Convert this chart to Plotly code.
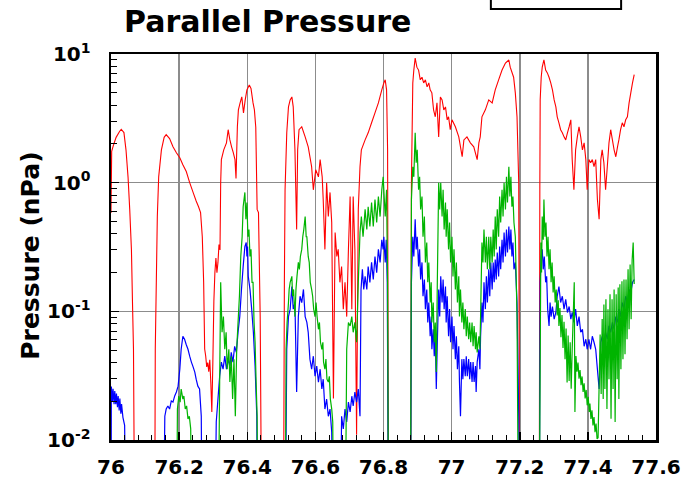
import plotly.graph_objects as go

# ---------------- data (time vs parallel pressure, nPa) ----------------
red_t1 = [76.000, 76.002, 76.007, 76.015, 76.025, 76.030, 76.038, 76.044, 76.050, 76.055, 76.060, 76.063, 76.066, 76.070]
red_p1 = [0.58, 1.75, 1.95, 2.25, 2.5, 2.6, 2.45, 1.8, 1.11, 0.62, 0.30, 0.12, 0.051, 0.001]

red_t2 = [76.128, 76.130, 76.136, 76.140, 76.148, 76.156, 76.162, 76.172, 76.182, 76.192, 76.202, 76.211, 76.221, 76.231,
          76.241, 76.250, 76.257, 76.263, 76.268, 76.272, 76.275, 76.278, 76.281, 76.284, 76.287, 76.290, 76.293, 76.296,
          76.299, 76.302, 76.305, 76.308, 76.311, 76.314, 76.317, 76.320, 76.322, 76.324, 76.331, 76.339, 76.344, 76.349,
          76.354, 76.359, 76.364, 76.367, 76.371, 76.374, 76.379, 76.384, 76.389, 76.394, 76.399, 76.406, 76.411, 76.417,
          76.421, 76.425, 76.429, 76.433, 76.438, 76.443]
red_p2 = [0.001, 0.051, 0.545, 1.11, 1.8, 2.25, 2.36, 2.2, 1.9, 1.71, 1.56, 1.38, 1.22, 1.0,
          0.84, 0.72, 0.65, 0.585, 0.38, 0.168, 0.051, 0.045, 0.037, 0.040, 0.034, 0.042, 0.028, 0.0165,
          0.04, 0.12, 0.2, 0.26, 0.2, 0.24, 0.33, 0.30, 1.0, 1.51, 1.8, 2.04, 2.58, 2.15,
          1.9, 1.71, 1.51, 1.08, 2.72, 3.68, 4.17, 4.64, 3.49, 4.4, 5.26, 5.75, 5.4, 4.17,
          3.68, 2.7, 0.62, 0.585, 0.091, 0.001]

red_t3 = [76.506, 76.509, 76.511, 76.516, 76.521, 76.526, 76.531, 76.535, 76.540, 76.545, 76.548, 76.552, 76.560, 76.570,
          76.579, 76.589, 76.594, 76.601, 76.609, 76.614, 76.620, 76.623, 76.628, 76.633, 76.638, 76.643, 76.648, 76.653,
          76.658, 76.663, 76.667, 76.672, 76.677, 76.682, 76.687, 76.692, 76.697, 76.702, 76.707, 76.711, 76.716, 76.721,
          76.726, 76.731, 76.735, 76.746, 76.755, 76.765, 76.775, 76.785, 76.795, 76.801, 76.805, 76.809, 76.812, 76.815]
red_p3 = [0.001, 0.168, 0.88, 2.44, 3.88, 4.4, 4.64, 3.88, 1.8, 0.432, 1.8, 2.58, 2.72, 2.27,
          1.9, 1.33, 0.88, 1.26, 1.11, 1.51, 1.11, 0.74, 0.303, 1.0, 0.545, 0.84, 0.49, 0.021,
          0.41, 0.267, 0.303, 0.168, 0.223, 0.104, 0.168, 0.091, 0.303, 0.78, 0.104, 0.78, 0.303, 0.011,
          0.62, 1.33, 1.8, 2.15, 2.44, 2.92, 3.49, 4.17, 5.26, 5.96, 6.3, 5.26, 1.8, 0.001]

red_t4 = [76.879, 76.882, 76.886, 76.889, 76.893, 76.898, 76.903, 76.908, 76.913, 76.918, 76.923, 76.928, 76.933, 76.937,
          76.942, 76.947, 76.952, 76.957, 76.962, 76.967, 76.972, 76.977, 76.982, 76.987, 76.991, 76.996, 77.001, 77.011,
          77.021, 77.026, 77.031, 77.036, 77.045, 77.055, 77.065, 77.075, 77.080, 77.084, 77.089, 77.099, 77.109, 77.119,
          77.128, 77.138, 77.148, 77.158, 77.168, 77.172, 77.182, 77.187, 77.192, 77.197, 77.200]
red_p4 = [0.001, 1.0, 5.96, 7.5, 9.3, 7.9, 7.5, 6.3, 6.6, 5.96, 6.3, 5.55, 5.96, 5.26,
          4.99, 3.68, 3.25, 4.17, 2.27, 4.64, 4.4, 3.68, 3.88, 3.08, 3.25, 2.58, 3.08, 2.72,
          2.27, 1.9, 1.59, 2.15, 2.27, 2.04, 1.9, 1.51, 2.04, 2.27, 3.25, 3.68, 4.4, 4.17,
          5.26, 6.3, 7.5, 8.5, 8.98, 7.9, 6.6, 4.99, 3.25, 1.0, 0.001]

red_t5 = [77.257, 77.259, 77.260, 77.263, 77.266, 77.271, 77.276, 77.281, 77.286, 77.291, 77.296, 77.301, 77.306, 77.310,
          77.315, 77.320, 77.325, 77.330, 77.335, 77.340, 77.345, 77.350, 77.354, 77.359, 77.364, 77.369, 77.374, 77.379,
          77.384, 77.389, 77.394, 77.398, 77.403, 77.408, 77.413, 77.418, 77.423, 77.428, 77.433, 77.438, 77.442, 77.447,
          77.452, 77.457, 77.462, 77.467, 77.472, 77.477, 77.482, 77.487, 77.491, 77.496, 77.501, 77.506, 77.511, 77.516,
          77.521, 77.526, 77.531, 77.536]
red_p5 = [0.001, 1.0, 4.4, 6.6, 7.9, 9.0, 7.5, 7.13, 6.6, 5.96, 5.26, 4.4, 3.88, 3.25,
          2.92, 2.58, 2.44, 2.27, 2.15, 2.44, 2.72, 3.08, 1.51, 0.88, 1.8, 2.27, 2.72, 2.27,
          1.8, 2.04, 1.51, 0.88, 1.51, 1.43, 1.51, 1.33, 1.51, 0.74, 0.52, 1.51, 1.8, 1.43,
          0.88, 1.33, 2.04, 2.58, 2.15, 1.8, 1.59, 1.9, 2.15, 2.58, 2.92, 2.72, 3.08, 3.25,
          4.17, 4.99, 5.96, 6.9]

blue_t1 = [76.000, 76.001, 76.004, 76.006, 76.009, 76.011, 76.014, 76.016, 76.019, 76.021, 76.024, 76.026, 76.029,
           76.031, 76.035, 76.040, 76.045]
blue_p1 = [0.001, 0.026, 0.020, 0.025, 0.019, 0.024, 0.019, 0.023, 0.018, 0.022, 0.017, 0.021, 0.016,
           0.019, 0.015, 0.013, 0.001]

blue_t2 = [76.153, 76.158, 76.162, 76.167, 76.172, 76.177, 76.182, 76.187, 76.192, 76.197, 76.202, 76.206, 76.211,
           76.216, 76.221, 76.226, 76.231, 76.236, 76.241, 76.246, 76.250, 76.255, 76.260, 76.265, 76.268]
blue_p2 = [0.001, 0.0153, 0.0174, 0.0184, 0.0174, 0.0201, 0.0197, 0.022, 0.0236, 0.0262, 0.0355, 0.0507, 0.064,
           0.0607, 0.055, 0.0507, 0.0448, 0.0403, 0.037, 0.0337, 0.0297, 0.0262, 0.0249, 0.0153, 0.001]

blue_t3 = [76.304, 76.309, 76.314, 76.319, 76.324, 76.329, 76.334, 76.339, 76.344, 76.349, 76.353, 76.358, 76.363,
           76.368, 76.373, 76.378, 76.383, 76.388, 76.393, 76.397, 76.399, 76.401, 76.403, 76.408, 76.413, 76.418,
           76.423, 76.428, 76.431]
blue_p3 = [0.001, 0.0138, 0.0208, 0.0313, 0.0403, 0.0355, 0.0448, 0.0355, 0.0425, 0.0375, 0.048, 0.0403, 0.0535,
           0.048, 0.0687, 0.091, 0.148, 0.223, 0.319, 0.343, 0.267, 0.319, 0.187, 0.148, 0.104, 0.0687,
           0.0375, 0.0153, 0.001]

blue_t4 = [76.511, 76.516, 76.521, 76.526, 76.531, 76.535, 76.540, 76.545, 76.550, 76.555, 76.560, 76.565, 76.570,
           76.575, 76.579, 76.584, 76.589, 76.594, 76.599, 76.604, 76.609, 76.614, 76.619, 76.623, 76.628, 76.633,
           76.638, 76.643, 76.648, 76.653, 76.672, 76.677, 76.682, 76.687, 76.692, 76.697, 76.702, 76.707, 76.711,
           76.716, 76.721, 76.726, 76.731, 76.734, 76.738, 76.742, 76.746, 76.751, 76.755, 76.760, 76.765, 76.770,
           76.775, 76.780, 76.785, 76.790, 76.795, 76.799, 76.801, 76.805, 76.808, 76.811, 76.815]
blue_p4 = [0.001, 0.0507, 0.091, 0.104, 0.156, 0.104, 0.117, 0.0236, 0.091, 0.131, 0.117, 0.148, 0.091,
           0.082, 0.0687, 0.0425, 0.0355, 0.0448, 0.0313, 0.0375, 0.0282, 0.0355, 0.0249, 0.0297, 0.0174, 0.0208,
           0.0153, 0.0174, 0.0115, 0.001, 0.001, 0.0153, 0.0122, 0.0174, 0.0138, 0.0197, 0.0165, 0.0219, 0.0184,
           0.0236, 0.0197, 0.0249, 0.0153, 0.148, 0.212, 0.148, 0.187, 0.148, 0.223, 0.168, 0.24, 0.177,
           0.267, 0.20, 0.303, 0.24, 0.36, 0.303, 0.38, 0.24, 0.36, 0.168, 0.001]

# shared time stamps for the 76.88 - 77.20 interval (blue and green)
mid_t = [76.879, 76.882, 76.886, 76.889, 76.893, 76.896, 76.899, 76.903, 76.906, 76.909, 76.913, 76.916, 76.920,
         76.923, 76.927, 76.930, 76.933, 76.937, 76.940, 76.942, 76.946, 76.949, 76.952, 76.955, 76.958, 76.962,
         76.965, 76.968, 76.972, 76.975, 76.978, 76.982, 76.984, 76.987, 76.991, 76.994, 76.997, 77.001, 77.004,
         77.007, 77.011, 77.014, 77.017, 77.021, 77.023, 77.026, 77.030, 77.033, 77.036, 77.040, 77.043, 77.046,
         77.050, 77.053, 77.056, 77.060, 77.063, 77.066, 77.070, 77.072, 77.075, 77.080, 77.083, 77.085, 77.089,
         77.092, 77.095, 77.099, 77.102, 77.105, 77.109, 77.112, 77.115, 77.119, 77.122, 77.125, 77.128, 77.131,
         77.134, 77.138, 77.141, 77.144, 77.148, 77.151, 77.154, 77.158, 77.161, 77.164, 77.168, 77.171, 77.174,
         77.177, 77.180, 77.183, 77.187, 77.192, 77.197, 77.200]
blue_p5 = [0.001, 0.168, 0.38, 0.267, 0.52, 0.303, 0.38, 0.223, 0.303, 0.177, 0.24, 0.131, 0.177,
           0.104, 0.148, 0.082, 0.117, 0.064, 0.091, 0.0507, 0.0725, 0.0448, 0.064, 0.0249, 0.0575, 0.148,
           0.091, 0.187, 0.117, 0.177, 0.104, 0.156, 0.082, 0.131, 0.064, 0.104, 0.0575, 0.091, 0.0507,
           0.077, 0.0425, 0.064, 0.0355, 0.0535, 0.0282, 0.0153, 0.0425, 0.0297, 0.0425, 0.0313, 0.0448, 0.0313,
           0.0425, 0.0297, 0.0403, 0.0282, 0.0403, 0.0282, 0.0375, 0.0236, 0.0403, 0.0507, 0.0355, 0.064, 0.117,
           0.082, 0.168, 0.104, 0.187, 0.117, 0.212, 0.131, 0.24, 0.148, 0.24, 0.168, 0.253, 0.177,
           0.287, 0.187, 0.319, 0.212, 0.36, 0.24, 0.41, 0.267, 0.432, 0.287, 0.456, 0.303, 0.432,
           0.267, 0.343, 0.212, 0.24, 0.117, 0.0153, 0.001]

blue_t6 = [77.257, 77.260, 77.263, 77.266, 77.269, 77.272, 77.276, 77.279, 77.282, 77.286, 77.289, 77.292, 77.296,
           77.301, 77.306, 77.310, 77.315, 77.320, 77.325, 77.330, 77.335, 77.340, 77.345, 77.350, 77.354, 77.359,
           77.364, 77.369, 77.374, 77.379, 77.384, 77.389, 77.394, 77.398, 77.403, 77.408, 77.413, 77.418, 77.423,
           77.428, 77.433, 77.438, 77.442, 77.447, 77.452, 77.457, 77.462, 77.467, 77.472, 77.477, 77.482, 77.487,
           77.491, 77.496, 77.501, 77.506, 77.511, 77.516, 77.521, 77.526, 77.531, 77.536]
blue_p6 = [0.001, 0.168, 0.267, 0.303, 0.212, 0.267, 0.168, 0.187, 0.104, 0.077, 0.117, 0.091, 0.109,
           0.087, 0.098, 0.131, 0.156, 0.117, 0.131, 0.104, 0.124, 0.098, 0.109, 0.087, 0.098, 0.082,
           0.104, 0.077, 0.091, 0.0687, 0.0725, 0.0535, 0.0607, 0.0507, 0.0607, 0.0507, 0.064, 0.0575, 0.0507,
           0.0355, 0.0249, 0.0575, 0.064, 0.0575, 0.0687, 0.0607, 0.077, 0.0687, 0.082, 0.0725, 0.091, 0.082,
           0.104, 0.091, 0.117, 0.104, 0.131, 0.117, 0.148, 0.14, 0.168, 0.177]

green_t1 = [76.192, 76.195, 76.199, 76.203, 76.206, 76.211, 76.214, 76.218, 76.222, 76.226, 76.230, 76.234, 76.238]
green_p1 = [0.001, 0.0174, 0.022, 0.0197, 0.0249, 0.0208, 0.022, 0.0174, 0.0184, 0.0146, 0.0153, 0.0122, 0.001]

green_t2 = [76.314, 76.319, 76.322, 76.326, 76.330, 76.334, 76.338, 76.341, 76.346, 76.349, 76.353, 76.357, 76.361,
            76.365, 76.369, 76.373, 76.377, 76.381, 76.385, 76.388, 76.393, 76.396, 76.399, 76.402, 76.405, 76.408,
            76.411, 76.414, 76.417, 76.420, 76.423, 76.426, 76.429, 76.431]
green_p2 = [0.001, 0.0282, 0.168, 0.0687, 0.091, 0.0507, 0.0687, 0.0355, 0.0507, 0.0282, 0.0448, 0.0208, 0.0425,
            0.0153, 0.0507, 0.082, 0.131, 0.267, 0.38, 0.65, 0.84, 0.52, 0.70, 0.38, 0.432, 0.267,
            0.303, 0.168, 0.168, 0.082, 0.0575, 0.0282, 0.0153, 0.001]

green_t3 = [76.511, 76.514, 76.517, 76.521, 76.523, 76.526, 76.531, 76.533, 76.536, 76.540, 76.543, 76.546, 76.550,
            76.553, 76.556, 76.560, 76.563, 76.566, 76.570, 76.573, 76.575, 76.579, 76.582, 76.585, 76.589, 76.592,
            76.595, 76.599, 76.602, 76.605, 76.609, 76.612, 76.615, 76.619, 76.622, 76.624, 76.628, 76.631, 76.634,
            76.638, 76.641, 76.644, 76.648, 76.651, 76.654, 76.687, 76.692, 76.697, 76.702, 76.707, 76.711, 76.716,
            76.721, 76.726, 76.731, 76.735, 76.740, 76.746, 76.751, 76.755, 76.760, 76.765, 76.770, 76.775, 76.780,
            76.785, 76.790, 76.795, 76.799, 76.805, 76.809, 76.812, 76.815]
green_p3 = [0.001, 0.0507, 0.082, 0.117, 0.148, 0.168, 0.187, 0.131, 0.148, 0.091, 0.148, 0.187, 0.24,
            0.212, 0.267, 0.303, 0.38, 0.432, 0.545, 0.38, 0.38, 0.267, 0.24, 0.168, 0.148, 0.131,
            0.104, 0.091, 0.117, 0.091, 0.0725, 0.082, 0.0575, 0.0507, 0.0575, 0.0403, 0.0355, 0.0425, 0.0297,
            0.0282, 0.0313, 0.0208, 0.0174, 0.0138, 0.001, 0.001, 0.0507, 0.082, 0.077, 0.091, 0.0687, 0.082,
            0.0575, 0.168, 0.41, 0.545, 0.38, 0.62, 0.432, 0.65, 0.456, 0.70, 0.456, 0.74, 0.49,
            0.78, 0.545, 0.88, 1.11, 0.545, 0.88, 0.168, 0.001]

green_p4 = [0.001, 0.74, 1.33, 1.11, 2.44, 1.43, 1.8, 0.88, 1.11, 0.62, 0.78, 0.38, 0.545,
            0.24, 0.343, 0.168, 0.24, 0.117, 0.168, 0.082, 0.117, 0.0575, 0.082, 0.0337, 0.168, 1.0,
            0.62, 1.0, 0.545, 0.88, 0.432, 0.70, 0.38, 0.62, 0.303, 0.49, 0.24, 0.38, 0.187,
            0.303, 0.148, 0.24, 0.117, 0.187, 0.091, 0.148, 0.082, 0.117, 0.0725, 0.104, 0.064, 0.091,
            0.0607, 0.082, 0.0575, 0.082, 0.0535, 0.077, 0.0507, 0.0687, 0.048, 0.064, 0.0507, 0.091, 0.343,
            0.24, 0.432, 0.24, 0.38, 0.212, 0.38, 0.212, 0.38, 0.24, 0.432, 0.267, 0.545, 0.303,
            0.62, 0.38, 0.78, 0.49, 0.88, 0.545, 1.0, 0.62, 1.11, 0.70, 1.33, 0.78, 1.11,
            0.65, 0.78, 0.49, 0.38, 0.091, 0.001, 0.001]

green_t5 = [77.257, 77.259, 77.262, 77.264, 77.266, 77.269, 77.271, 77.274, 77.277, 77.280, 77.283, 77.286, 77.289,
            77.292, 77.295, 77.298, 77.301, 77.304, 77.307, 77.310, 77.313, 77.315, 77.318, 77.321, 77.324, 77.327,
            77.330, 77.333, 77.336, 77.339, 77.342, 77.345, 77.348, 77.351, 77.354, 77.360, 77.362,
            77.365, 77.368, 77.371, 77.374, 77.377, 77.380, 77.383, 77.386, 77.389, 77.392, 77.395, 77.398, 77.401,
            77.404, 77.406, 77.409, 77.412, 77.415, 77.418, 77.421, 77.424, 77.427, 77.430,
            77.436, 77.439, 77.442, 77.445, 77.447, 77.450, 77.453, 77.456, 77.459, 77.462, 77.465, 77.468, 77.471,
            77.474, 77.477, 77.480, 77.483, 77.486, 77.489, 77.491, 77.494, 77.497, 77.500, 77.503, 77.506, 77.509,
            77.512, 77.515, 77.518, 77.521, 77.524, 77.527, 77.530, 77.533, 77.536]
green_p5 = [0.001, 0.0153, 0.343, 0.2, 0.545, 0.36, 0.74, 0.38, 0.49, 0.267, 0.38, 0.212, 0.303,
            0.168, 0.24, 0.14, 0.187, 0.117, 0.148, 0.093, 0.122, 0.077, 0.106, 0.063, 0.0935, 0.052,
            0.083, 0.0425, 0.0735, 0.028, 0.065, 0.0287, 0.0576, 0.025, 0.051, 0.168, 0.0165,
            0.045, 0.034, 0.040, 0.030, 0.035, 0.0267, 0.0312, 0.0236, 0.0276, 0.021, 0.0245, 0.0186, 0.0217,
            0.0165, 0.0192, 0.0146, 0.017, 0.013, 0.0151, 0.0115, 0.0134, 0.0102, 0.0104,
            0.066, 0.0228, 0.087, 0.0208, 0.113, 0.0249, 0.124, 0.0174, 0.104, 0.0297, 0.1355, 0.0146, 0.124,
            0.0249, 0.148, 0.0138, 0.1355, 0.0297, 0.1535, 0.0208, 0.162, 0.0355, 0.171, 0.0425, 0.177, 0.0464,
            0.177, 0.0607, 0.212, 0.0725, 0.231, 0.087, 0.253, 0.343, 0.163]

x_ticks = [76.0, 76.2, 76.4, 76.6, 76.8, 77.0, 77.2, 77.4, 77.6]
x_labels = ["76", "76.2", "76.4", "76.6", "76.8", "77", "77.2", "77.4", "77.6"]
y_ticks = [0.01, 0.1, 1, 10]
y_labels = ["10<sup>-2</sup>", "10<sup>-1</sup>", "10<sup>0</sup>", "10<sup>1</sup>"]
title_text = "Parallel Pressure"
y_title = "Pressure (nPa)"

# ---------------- assemble ----------------
def join(pairs):
    xs, ys = [], []
    for t, p in pairs:
        assert len(t) == len(p), (len(t), len(p))
        xs += t
        ys += p
    return xs, ys

red_x, red_y = join([(red_t1, red_p1), (red_t2, red_p2), (red_t3, red_p3), (red_t4, red_p4), (red_t5, red_p5)])
blue_x, blue_y = join([(blue_t1, blue_p1), (blue_t2, blue_p2), (blue_t3, blue_p3), (blue_t4, blue_p4),
                       (mid_t, blue_p5), (blue_t6, blue_p6)])
green_x, green_y = join([(green_t1, green_p1), (green_t2, green_p2), (green_t3, green_p3),
                         (mid_t, green_p4), (green_t5, green_p5)])

FONT = "DejaVu Sans"
fig = go.Figure()
for xs, ys, col, w in [(red_x, red_y, "#ff0000", 1.1), (blue_x, blue_y, "#0000ff", 1.2), (green_x, green_y, "#00b400", 1.2)]:
    fig.add_trace(go.Scatter(x=xs, y=ys, mode="lines", line=dict(color=col, width=w, simplify=False),
                             showlegend=False, hoverinfo="skip"))

minor_y = [k * 10.0 ** e for e in (-2, -1, 0) for k in range(2, 10)]

fig.update_layout(
    width=689, height=486,
    margin=dict(l=111, r=33, t=54, b=46, autoexpand=False),
    paper_bgcolor="white", plot_bgcolor="white",
    showlegend=False,
)
fig.update_xaxes(
    range=[76, 77.6], tickmode="array", tickvals=x_ticks, ticktext=x_labels, automargin=False,
    ticks="inside", ticklen=8, tickwidth=1.5, tickcolor="black",
    showgrid=True, gridcolor="#8c8c8c", gridwidth=1.5,
    showline=True, linecolor="black", linewidth=2.5, mirror=True, zeroline=False,
    tickfont=dict(family=FONT, size=20, color="black", weight="bold"),
    ticklabelstandoff=7,
    minor=dict(ticks="inside", ticklen=5, tickwidth=1, tickcolor="black", tick0=76, dtick=0.04, showgrid=False),
)
fig.update_yaxes(
    type="log", range=[-2, 1], tickmode="array", tickvals=y_ticks, ticktext=y_labels, automargin=False,
    ticks="inside", ticklen=8, tickwidth=1.5, tickcolor="black",
    showgrid=True, gridcolor="#8c8c8c", gridwidth=1.5,
    showline=True, linecolor="black", linewidth=2.5, mirror=True, zeroline=False,
    tickfont=dict(family=FONT, size=20, color="black", weight="bold"),
    ticklabelstandoff=14,
    minor=dict(ticks="inside", ticklen=6, tickwidth=1, tickcolor="black", tickmode="array",
               tickvals=minor_y, showgrid=False),
)
fig.add_annotation(text=title_text, xref="paper", yref="paper", x=0.0202, y=1.083,
                   xanchor="left", yanchor="middle", showarrow=False,
                   font=dict(family=FONT, size=30, color="black", weight="bold"))
fig.add_annotation(text=y_title, xref="paper", yref="paper", x=-0.147, y=0.477, textangle=-90,
                   xanchor="center", yanchor="middle", showarrow=False,
                   font=dict(family=FONT, size=25, color="black", weight="bold"))
fig.add_shape(type="rect", xref="paper", yref="paper", x0=0.697, x1=0.936, y0=1.1166, y1=1.17,
              line=dict(color="black", width=2), fillcolor="rgba(0,0,0,0)")

fig.write_html("out.html", config={"displayModeBar": False, "staticPlot": True},
               post_script="document.body.style.margin='0';document.body.style.overflow='hidden';")
